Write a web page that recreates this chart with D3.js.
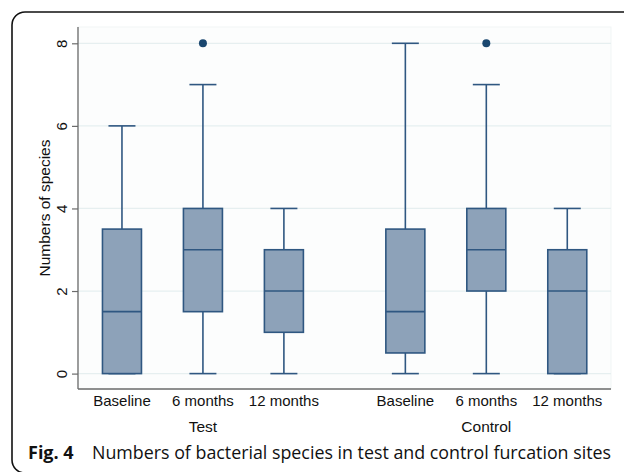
<!DOCTYPE html>
<html>
<head>
<meta charset="utf-8">
<script src="https://cdn.jsdelivr.net/npm/d3@7"></script>
<style>
html,body{margin:0;padding:0;background:#fff;}
svg{display:block;}
</style>
</head>
<body>
<script>
// ---- data ----
const groups = ["Test", "Control"];
const times = ["Baseline", "6 months", "12 months"];
const mins    = [0, 0, 0, 0, 0, 0];
const q1s     = [0, 1.5, 1, 0.5, 2, 0];
const medians = [1.5, 3, 2, 1.5, 3, 2];
const q3s     = [3.5, 4, 3, 3.5, 4, 3];
const maxs    = [6, 7, 4, 8, 7, 4];
const outliers = [[], [8], [], [], [8], []];
const yTicks = [0, 2, 4, 6, 8];
const yTitle = "Numbers of species";
const captionBold = "Fig. 4";
const captionText = "Numbers of bacterial species in test and control furcation sites";

const W = 624, H = 472;
const svg = d3.select("body").append("svg").attr("width", W).attr("height", H);

// outer frame
svg.append("rect").attr("x", 12).attr("y", 12).attr("width", 700).attr("height", 461)
  .attr("rx", 13).attr("fill", "none").attr("stroke", "#111").attr("stroke-width", 1.6);

const plot = {left: 78, right: 611, top: 27, bottom: 389};

// positions: index within group + group offset
const pos = [];
groups.forEach((g, gi) => times.forEach((t, ti) => pos.push(gi * 3.5 + ti)));

const x = d3.scaleLinear().domain([-0.543, 6.04]).range([plot.left, plot.right]);
const y = d3.scaleLinear().domain([0, 8]).range([373.6, 43.3]);

// plot region background
svg.append("rect").attr("x", plot.left).attr("y", plot.top)
  .attr("width", plot.right - plot.left).attr("height", plot.bottom - plot.top)
  .attr("fill", "#fcfdfd").attr("stroke", "#f1f5f5").attr("stroke-width", 1);

// gridlines
svg.append("g").selectAll("line").data(yTicks).join("line")
  .attr("x1", plot.left).attr("x2", plot.right)
  .attr("y1", d => y(d)).attr("y2", d => y(d))
  .attr("stroke", "#e6eff0").attr("stroke-width", 1.3);

// y axis
const yAxis = d3.axisLeft(y).tickValues(yTicks).tickSize(6).tickPadding(4).tickFormat(d3.format("d"));
const yg = svg.append("g").attr("transform", `translate(${plot.left},0)`).call(yAxis);
yg.select(".domain").remove();
yg.append("line").attr("x1", 0).attr("x2", 0).attr("y1", plot.top).attr("y2", plot.bottom)
  .attr("stroke", "#6b6b6b").attr("stroke-width", 1.3);
yg.selectAll(".tick line").attr("stroke", "#6b6b6b").attr("stroke-width", 1.2);
yg.selectAll(".tick text")
  .attr("font-family", "Liberation Sans, Arial, sans-serif").attr("font-size", "15px")
  .attr("fill", "#111")
  .attr("text-anchor", "middle")
  .attr("x", null).attr("dy", null)
  .attr("transform", "translate(-11,0) rotate(-90)")
  .attr("y", 0);

// x axis line
svg.append("line").attr("x1", plot.left).attr("x2", plot.right)
  .attr("y1", plot.bottom).attr("y2", plot.bottom)
  .attr("stroke", "#6b6b6b").attr("stroke-width", 1.3);

// y title
svg.append("text")
  .attr("transform", `translate(50,208) rotate(-90)`)
  .attr("text-anchor", "middle")
  .attr("font-family", "Liberation Sans, Arial, sans-serif").attr("font-size", "15.5px")
  .attr("fill", "#111").text(yTitle);

// boxes
const boxW = 39, capW = 27;
const stroke = "#2f5781", fill = "#8da2b9";
const idx = d3.range(pos.length);
const gBox = svg.append("g");
// whiskers
gBox.selectAll("line.wl").data(idx).join("line").attr("class", "wl")
  .attr("x1", i => x(pos[i])).attr("x2", i => x(pos[i]))
  .attr("y1", i => y(mins[i])).attr("y2", i => y(q1s[i]))
  .attr("stroke", stroke).attr("stroke-width", 1.6);
gBox.selectAll("line.wh").data(idx).join("line").attr("class", "wh")
  .attr("x1", i => x(pos[i])).attr("x2", i => x(pos[i]))
  .attr("y1", i => y(maxs[i])).attr("y2", i => y(q3s[i]))
  .attr("stroke", stroke).attr("stroke-width", 1.6);
gBox.selectAll("line.cl").data(idx).join("line").attr("class", "cl")
  .attr("x1", i => x(pos[i]) - capW / 2).attr("x2", i => x(pos[i]) + capW / 2)
  .attr("y1", i => y(mins[i])).attr("y2", i => y(mins[i]))
  .attr("stroke", stroke).attr("stroke-width", 1.6);
gBox.selectAll("line.ch").data(idx).join("line").attr("class", "ch")
  .attr("x1", i => x(pos[i]) - capW / 2).attr("x2", i => x(pos[i]) + capW / 2)
  .attr("y1", i => y(maxs[i])).attr("y2", i => y(maxs[i]))
  .attr("stroke", stroke).attr("stroke-width", 1.6);
gBox.selectAll("rect").data(idx).join("rect")
  .attr("x", i => x(pos[i]) - boxW / 2).attr("width", boxW)
  .attr("y", i => y(q3s[i])).attr("height", i => y(q1s[i]) - y(q3s[i]))
  .attr("fill", fill).attr("stroke", stroke).attr("stroke-width", 1.6);
gBox.selectAll("line.med").data(idx).join("line").attr("class", "med")
  .attr("x1", i => x(pos[i]) - boxW / 2).attr("x2", i => x(pos[i]) + boxW / 2)
  .attr("y1", i => y(medians[i])).attr("y2", i => y(medians[i]))
  .attr("stroke", stroke).attr("stroke-width", 1.6);
// outliers
const outPts = [];
outliers.forEach((arr, i) => arr.forEach(v => outPts.push({i, v})));
gBox.selectAll("circle").data(outPts).join("circle")
  .attr("cx", d => x(pos[d.i])).attr("cy", d => y(d.v)).attr("r", 4)
  .attr("fill", "#1a476f");

// category labels
svg.append("g").selectAll("text").data(idx).join("text")
  .attr("x", i => x(pos[i])).attr("y", 406)
  .attr("text-anchor", "middle")
  .attr("font-family", "Liberation Sans, Arial, sans-serif").attr("font-size", "15px")
  .attr("fill", "#111").text(i => times[i % 3]);
svg.append("g").selectAll("text").data(groups).join("text")
  .attr("x", (g, gi) => x(gi * 3.5 + 1)).attr("y", 432)
  .attr("text-anchor", "middle")
  .attr("font-family", "Liberation Sans, Arial, sans-serif").attr("font-size", "15.5px")
  .attr("fill", "#111").text(g => g);

// caption
const cap = svg.append("text").attr("x", 28).attr("y", 459)
  .attr("font-family", "Open Sans, Noto Sans, sans-serif").attr("font-size", "18px").attr("fill", "#111");
cap.append("tspan").attr("font-weight", "bold").text(captionBold);
const capRest = svg.append("text").attr("x", 92).attr("y", 459)
  .attr("font-family", "Open Sans, Noto Sans, sans-serif").attr("font-size", "18px").attr("fill", "#111")
  .text(captionText);
const target = 519;
const len = capRest.node().getComputedTextLength();
if (len > target) {
  capRest.attr("textLength", target).attr("lengthAdjust", "spacingAndGlyphs");
}
const blen = cap.node().getComputedTextLength();
if (blen > 50) cap.attr("textLength", 50).attr("lengthAdjust", "spacingAndGlyphs");
</script>
</body>
</html>
